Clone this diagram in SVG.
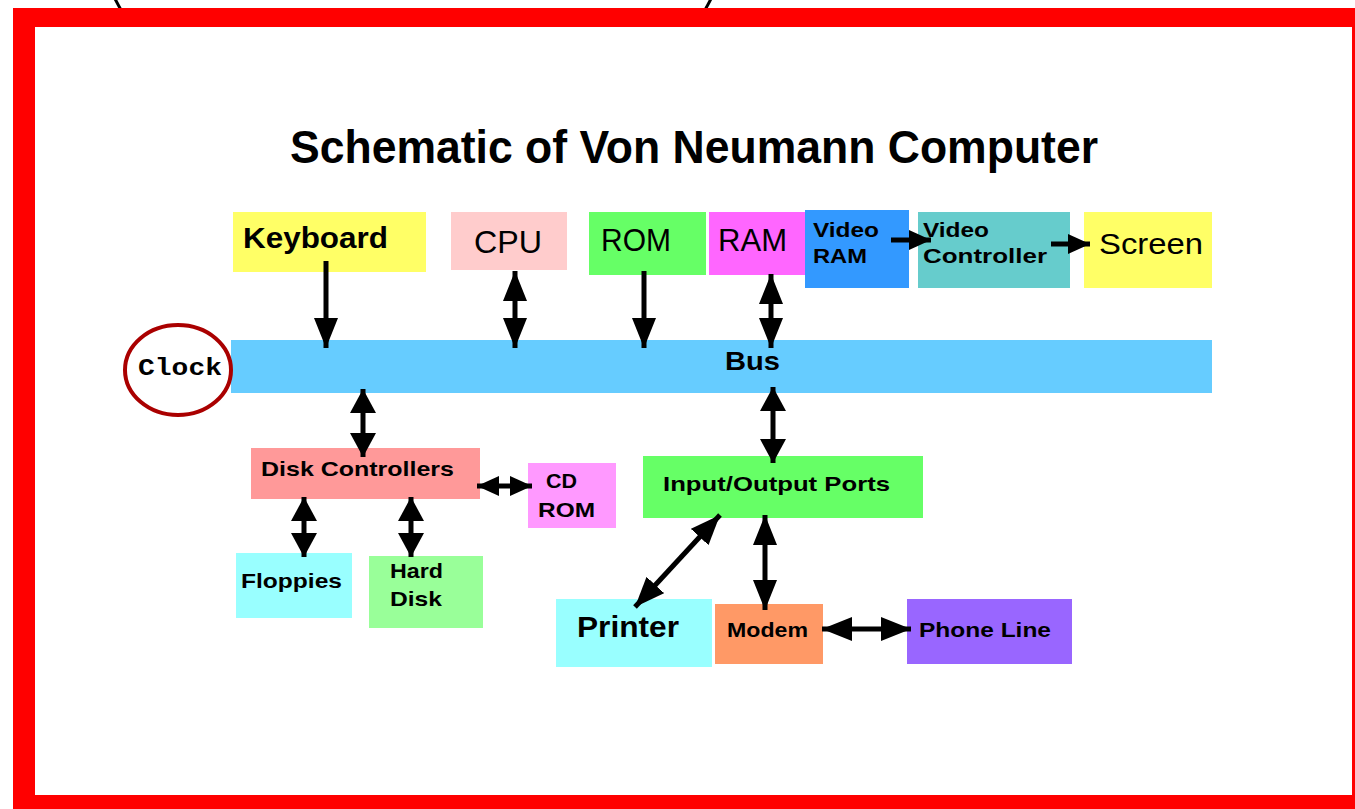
<svg xmlns="http://www.w3.org/2000/svg" width="1355" height="809" viewBox="0 0 1355 809">
<style>
text{font-family:"Liberation Sans",Arial,sans-serif;fill:#000}
.b{font-weight:bold}
.big{font-size:31px}
.sm{font-size:21px;font-weight:bold}
.conn line{stroke:#000;stroke-width:5}
</style>
<defs>
<marker id="ah" viewBox="0 0 30 24" refX="30" refY="12" markerWidth="30" markerHeight="24" markerUnits="userSpaceOnUse" orient="auto-start-reverse"><path d="M0,0 L30,12 L0,24 z" fill="#000"/></marker>
<marker id="ahm" viewBox="0 0 24 26" refX="24" refY="13" markerWidth="24" markerHeight="26" markerUnits="userSpaceOnUse" orient="auto-start-reverse"><path d="M0,0 L24,13 L0,26 z" fill="#000"/></marker>
<marker id="ahs" viewBox="0 0 22 20" refX="22" refY="10" markerWidth="22" markerHeight="20" markerUnits="userSpaceOnUse" orient="auto-start-reverse"><path d="M0,0 L22,10 L0,20 z" fill="#000"/></marker>
</defs>
<rect width="1355" height="809" fill="#fff"/>
<g id="arc" fill="none" stroke="#000" stroke-width="3">
<path d="M114.6,-2 A369,369 0 0 0 121,10"/>
<path d="M705,10 A369,369 0 0 0 711.4,-2"/>
</g>
<g id="frame"><path d="M13,8 H1355 V809 H13 Z M35,27 V795 H1352 V27 Z" fill="#f00" fill-rule="evenodd"/></g>
<g id="title"><text x="290" y="163" class="b" font-size="46" textLength="808" lengthAdjust="spacingAndGlyphs">Schematic of Von Neumann Computer</text></g>

<g id="bus"><rect x="231" y="340" width="981" height="53" fill="#66CCFF"/><text x="725" y="370" class="b" font-size="25" textLength="55" lengthAdjust="spacingAndGlyphs">Bus</text></g>
<g id="clock"><ellipse cx="178" cy="370" rx="53" ry="45" fill="#fff" stroke="#AA0000" stroke-width="4"/><text x="138" y="375" style="font-family:'Liberation Mono',monospace" font-weight="bold" font-size="23" textLength="84" lengthAdjust="spacingAndGlyphs">Clock</text></g>

<g id="keyboard"><rect x="233" y="212" width="193" height="60" fill="#FFFF66"/><text x="243" y="248" class="b" font-size="29" textLength="145" lengthAdjust="spacingAndGlyphs">Keyboard</text></g>
<g id="cpu"><rect x="451" y="212" width="116" height="58" fill="#FFCCCC"/><text x="474" y="253" class="big" textLength="68" lengthAdjust="spacingAndGlyphs">CPU</text></g>
<g id="rom"><rect x="589" y="212" width="117" height="63" fill="#66FF66"/><text x="601" y="251" class="big" textLength="70" lengthAdjust="spacingAndGlyphs">ROM</text></g>
<g id="ram"><rect x="709" y="212" width="98" height="63" fill="#FF66FF"/><text x="718" y="251" class="big" textLength="69" lengthAdjust="spacingAndGlyphs">RAM</text></g>
<g id="videoram"><rect x="805" y="210" width="104" height="78" fill="#3399FF"/><text x="813" y="237" class="sm" textLength="66" lengthAdjust="spacingAndGlyphs">Video</text><text x="813" y="263" class="sm" textLength="54" lengthAdjust="spacingAndGlyphs">RAM</text></g>
<g id="videoctrl"><rect x="918" y="212" width="152" height="76" fill="#66CCCC"/><text x="923" y="237" class="sm" textLength="66" lengthAdjust="spacingAndGlyphs">Video</text><text x="923" y="263" class="sm" textLength="124" lengthAdjust="spacingAndGlyphs">Controller</text></g>
<g id="screen"><rect x="1084" y="212" width="128" height="76" fill="#FFFF66"/><text x="1099" y="254" font-size="30" textLength="104" lengthAdjust="spacingAndGlyphs">Screen</text></g>

<g id="diskctrl"><rect x="251" y="448" width="229" height="51" fill="#FF9999"/><text x="261" y="476" class="sm" textLength="193" lengthAdjust="spacingAndGlyphs">Disk Controllers</text></g>
<g id="cdrom"><rect x="528" y="463" width="88" height="65" fill="#FF99FF"/><text x="546" y="488" class="sm" textLength="31" lengthAdjust="spacingAndGlyphs">CD</text><text x="538" y="517" class="sm" textLength="57" lengthAdjust="spacingAndGlyphs">ROM</text></g>
<g id="floppies"><rect x="236" y="553" width="116" height="65" fill="#99FFFF"/><text x="241" y="588" class="sm" font-size="24" textLength="101" lengthAdjust="spacingAndGlyphs">Floppies</text></g>
<g id="harddisk"><rect x="369" y="556" width="114" height="72" fill="#99FF99"/><text x="390" y="578" class="sm" textLength="53" lengthAdjust="spacingAndGlyphs">Hard</text><text x="390" y="606" class="sm" textLength="52" lengthAdjust="spacingAndGlyphs">Disk</text></g>
<g id="io"><rect x="643" y="456" width="280" height="62" fill="#66FF66"/><text x="663" y="491" class="sm" font-size="22" textLength="227" lengthAdjust="spacingAndGlyphs">Input/Output Ports</text></g>
<g id="printer"><rect x="556" y="599" width="156" height="68" fill="#99FFFF"/><text x="577" y="637" class="b" font-size="30" textLength="102" lengthAdjust="spacingAndGlyphs">Printer</text></g>
<g id="modem"><rect x="715" y="604" width="108" height="60" fill="#FF9966"/><text x="727" y="637" class="sm" font-size="22" textLength="81" lengthAdjust="spacingAndGlyphs">Modem</text></g>
<g id="phoneline"><rect x="907" y="599" width="165" height="65" fill="#9966FF"/><text x="919" y="637" class="sm" font-size="22" textLength="132" lengthAdjust="spacingAndGlyphs">Phone Line</text></g>

<g class="conn" id="connectors">
<line x1="326" y1="261" x2="326" y2="348" marker-end="url(#ah)"/>
<line x1="515" y1="271" x2="515" y2="348" marker-start="url(#ah)" marker-end="url(#ah)"/>
<line x1="644" y1="271" x2="644" y2="348" marker-end="url(#ah)"/>
<line x1="771" y1="274" x2="771" y2="348" marker-start="url(#ah)" marker-end="url(#ah)"/>
<line x1="891" y1="240" x2="931" y2="240" marker-end="url(#ahs)"/>
<line x1="1051" y1="244" x2="1090" y2="244" marker-end="url(#ahs)"/>
<line x1="363" y1="389" x2="363" y2="457" marker-start="url(#ahm)" marker-end="url(#ahm)"/>
<line x1="477" y1="486" x2="532" y2="486" marker-start="url(#ahs)" marker-end="url(#ahs)"/>
<line x1="304" y1="497" x2="304" y2="557" marker-start="url(#ahm)" marker-end="url(#ahm)"/>
<line x1="411" y1="497" x2="411" y2="557" marker-start="url(#ahm)" marker-end="url(#ahm)"/>
<line x1="773" y1="387" x2="773" y2="463" marker-start="url(#ahm)" marker-end="url(#ahm)"/>
<line x1="720" y1="515" x2="635" y2="607" marker-start="url(#ah)" marker-end="url(#ah)"/>
<line x1="765" y1="515" x2="765" y2="610" marker-start="url(#ah)" marker-end="url(#ah)"/>
<line x1="822" y1="629" x2="911" y2="629" marker-start="url(#ah)" marker-end="url(#ah)"/>
</g>
</svg>
